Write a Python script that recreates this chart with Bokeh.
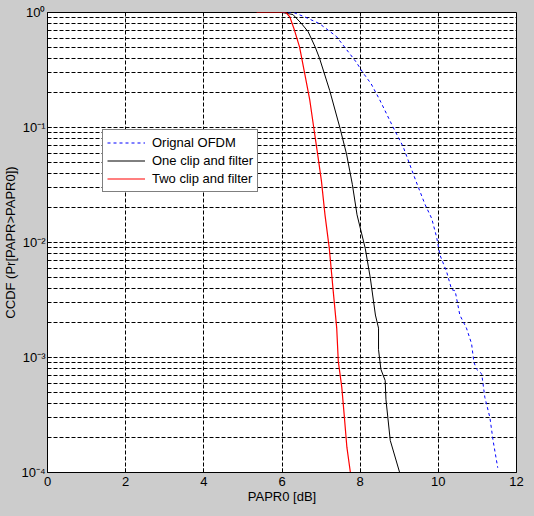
from bokeh.plotting import figure
from bokeh.models import (Range1d, FixedTicker, CustomJSTickFormatter, Legend,
                          LegendItem, GlobalInlineStyleSheet)
from bokeh.embed import file_html
from bokeh.resources import INLINE

# ---- data ----
papr_orig = [6.0, 6.3, 6.58, 6.96, 7.39, 7.90, 8.07, 8.28, 8.50, 8.84, 9.10, 9.43,
             9.66, 9.83, 9.96, 10.04, 10.21, 10.34, 10.43, 10.55, 10.72, 10.85,
             10.91, 10.98, 11.11, 11.19, 11.32, 11.40, 11.52]
ccdf_orig = [1.0, 1.0, 0.916, 0.80, 0.62, 0.37, 0.30, 0.24, 0.174, 0.101, 0.068,
             0.034, 0.0214, 0.0162, 0.011, 0.0078, 0.0056, 0.0039, 0.0038, 0.00234,
             0.0018, 0.00132, 0.00091, 0.00079, 0.00072, 0.00045, 0.0003, 0.00019,
             0.00011]

papr_one = [6.0, 6.28, 6.50, 6.67, 6.85, 6.96, 7.22, 7.48, 7.65, 7.80, 7.92, 8.13,
            8.26, 8.39, 8.47, 8.47, 8.53, 8.64, 8.66, 8.77, 9.01]
ccdf_one = [1.0, 0.96, 0.80, 0.68, 0.50, 0.40, 0.21, 0.10, 0.059, 0.032, 0.0174,
            0.0089, 0.0049, 0.00234, 0.0018, 0.00117, 0.00079, 0.00063, 0.00043,
            0.00019, 0.0001]

papr_two = [5.35, 6.1, 6.20, 6.32, 6.45, 6.58, 6.71, 6.81, 6.92, 7.01, 7.10, 7.21,
            7.31, 7.40, 7.44, 7.53, 7.59, 7.66, 7.75]
ccdf_two = [1.0, 1.0, 0.916, 0.70, 0.50, 0.295, 0.174, 0.101, 0.056, 0.034, 0.0174,
            0.0089, 0.0038, 0.0018, 0.00093, 0.00055, 0.00032, 0.000166, 0.0001]

x_ticks = [0, 2, 4, 6, 8, 10, 12]
y_ticks = [1e-4, 1e-3, 1e-2, 1e-1, 1.0]
series_names = ["Orignal OFDM", "One clip and filter", "Two clip and filter"]
x_label = "PAPR0 [dB]"
y_label = "CCDF (Pr[PAPR>PAPR0])"

# ---- figure ----
FONT = "Liberation Sans"
GRAY = "#cccccc"
y_minor = [m * t for t in y_ticks[:-1] for m in range(2, 10)]

p = figure(width=534, height=516, y_axis_type="log",
           x_range=Range1d(0, 12), y_range=Range1d(1e-4, 1.0),
           output_backend="svg", toolbar_location=None,
           min_border_left=47, min_border_right=18,
           min_border_top=12, min_border_bottom=44)
p.stylesheets = [GlobalInlineStyleSheet(css="body { background: #cccccc; }")]

p.background_fill_color = "white"
p.border_fill_color = GRAY
p.outline_line_color = "black"
p.outline_line_width = 1
p.outline_line_alpha = 1

p.xaxis.ticker = FixedTicker(ticks=x_ticks, minor_ticks=[])
p.yaxis.ticker = FixedTicker(ticks=y_ticks, minor_ticks=y_minor)
p.yaxis.formatter = CustomJSTickFormatter(code=r"""
const sup = {'0':'\u2070','1':'\u00b9','2':'\u00b2','3':'\u00b3','4':'\u2074','-':'\u207b'};
const e = Math.round(Math.log10(tick)).toString();
return '10' + e.split('').map(c => sup[c]).join('');
""")

for ax in (p.xaxis[0], p.yaxis[0]):
    ax.axis_line_color = "black"
    ax.major_tick_line_color = "black"
    ax.minor_tick_line_color = "black"
    ax.major_tick_in = 4
    ax.major_tick_out = 0
    ax.minor_tick_in = 2
    ax.minor_tick_out = 0
    ax.major_label_text_font = FONT
    ax.major_label_text_font_size = "13px"
    ax.major_label_text_color = "black"
    ax.axis_label_text_font = FONT
    ax.axis_label_text_font_size = "13px"
    ax.axis_label_text_font_style = "normal"
    ax.axis_label_text_color = "black"

p.xaxis.major_label_standoff = 4
p.xaxis.axis_label_standoff = 0
p.yaxis.major_label_standoff = 2
p.yaxis.axis_label_standoff = 0
p.xaxis.axis_label = x_label
p.yaxis.axis_label = y_label

for g in (p.xgrid[0], p.ygrid[0]):
    g.grid_line_color = "black"
    g.grid_line_dash = "4 2"
    g.grid_line_width = 1
p.ygrid.minor_grid_line_color = "black"
p.ygrid.minor_grid_line_dash = "4 2"
p.ygrid.minor_grid_line_width = 1

r_orig = p.line(papr_orig, ccdf_orig, line_color="blue", line_width=1, line_dash="3 3")
r_one = p.line(papr_one, ccdf_one, line_color="black", line_width=1)
r_two = p.line(papr_two, ccdf_two, line_color="red", line_width=1.2)

legend = Legend(items=[LegendItem(label=series_names[0], renderers=[r_orig]),
                       LegendItem(label=series_names[1], renderers=[r_one]),
                       LegendItem(label=series_names[2], renderers=[r_two])],
                location=(55, 280))
legend.border_line_color = "black"
legend.border_line_width = 1
legend.background_fill_color = "white"
legend.background_fill_alpha = 1
legend.label_text_font = FONT
legend.label_text_font_size = "13px"
legend.label_text_color = "black"
legend.padding = 4
legend.margin = 0
legend.spacing = 1
legend.glyph_width = 38
legend.glyph_height = 17
legend.label_height = 17
legend.label_standoff = 7
p.add_layout(legend, "center")

open("out.html", "w").write(file_html(p, INLINE))
